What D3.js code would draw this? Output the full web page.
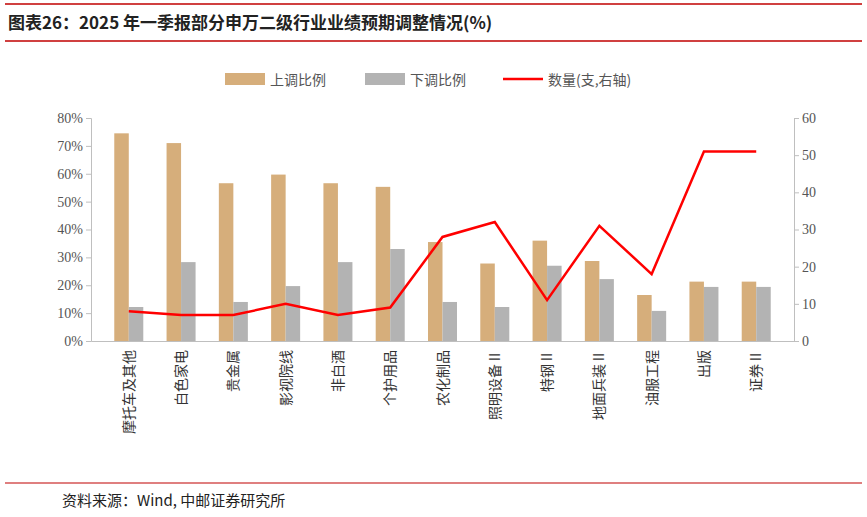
<!DOCTYPE html>
<html>
<head>
<meta charset="utf-8">
<script src="https://d3js.org/d3.v7.min.js"></script>
<style>
body{margin:0;background:#fff;font-family:"Noto Sans CJK SC","Noto Sans",sans-serif;}
</style>
</head>
<body>
<svg id="chart" width="867" height="517"></svg>
<script>
const categories = ["摩托车及其他","白色家电","贵金属","影视院线","非白酒","个护用品","农化制品","照明设备Ⅱ","特钢Ⅱ","地面兵装Ⅱ","油服工程","出版","证券Ⅱ"];
const upRatio = [74.5,71,56.6,59.7,56.6,55.3,35.5,27.8,36,28.7,16.5,21.3,21.3];
const downRatio = [12.2,28.3,14,19.7,28.3,33,14,12.2,27,22.2,10.8,19.4,19.4];
const counts = [8,7,7,10,7,9,28,32,11,31,18,51,51];
const leftTicks = [0,10,20,30,40,50,60,70,80];
const rightTicks = [0,10,20,30,40,50,60];

const svg = d3.select("#chart");
const red = "#c00000";

// title block
svg.append("line").attr("x1",5).attr("x2",862).attr("y1",4).attr("y2",4).attr("stroke",red).attr("stroke-width",1.5);
svg.append("line").attr("x1",5).attr("x2",862).attr("y1",41).attr("y2",41).attr("stroke",red).attr("stroke-width",1.5);
svg.append("text").attr("x",8).attr("y",29).attr("font-size",17).attr("font-weight","bold").attr("fill","#222")
  .text("图表26：2025 年一季报部分申万二级行业业绩预期调整情况(%)");
svg.append("line").attr("x1",5).attr("x2",862).attr("y1",483).attr("y2",483).attr("stroke",red).attr("stroke-width",1.2);
svg.append("text").attr("x",62).attr("y",506).attr("font-size",15).attr("fill","#222").text("资料来源：Wind, 中邮证券研究所");

const x = d3.scaleBand().domain(categories).range([91,794]).padding(0.445);
const y = d3.scaleLinear().domain([0,80]).range([341,118]);
const y2 = d3.scaleLinear().domain([0,60]).range([341,118]);
const bw = x.bandwidth()/2;

svg.append("g").selectAll("rect").data(categories).join("rect")
  .attr("x",d=>x(d)).attr("y",(d,i)=>y(upRatio[i])).attr("width",bw)
  .attr("height",(d,i)=>y(0)-y(upRatio[i])).attr("fill","#d6ae7b");
svg.append("g").selectAll("rect").data(categories).join("rect")
  .attr("x",d=>x(d)+bw).attr("y",(d,i)=>y(downRatio[i])).attr("width",bw)
  .attr("height",(d,i)=>y(0)-y(downRatio[i])).attr("fill","#b3b3b3");

const line = d3.line().x((d,i)=>x(categories[i])+x.bandwidth()/2).y(d=>y2(d));
svg.append("path").datum(counts).attr("d",line).attr("fill","none").attr("stroke","#ff0000").attr("stroke-width",2.5);

// axes
const gl = svg.append("g").attr("transform","translate(91,0)")
  .call(d3.axisLeft(y).tickValues(leftTicks).tickFormat(d=>d+"%").tickSize(5));
const gr = svg.append("g").attr("transform","translate(794,0)")
  .call(d3.axisRight(y2).tickValues(rightTicks).tickSize(5));
const gb = svg.append("g").attr("transform","translate(0,341)")
  .call(d3.axisBottom(x).tickValues([]).tickSizeOuter(0));
[gl,gr,gb].forEach(g=>{
  g.selectAll("path,line").attr("stroke","#bfbfbf");
  g.selectAll("text").attr("fill","#555").attr("font-size",14).attr("font-family","Liberation Serif, serif");
});
gl.selectAll("text").attr("x",-8);

// rotated category labels
svg.append("g").selectAll("text").data(categories).join("text")
  .attr("font-size",14).attr("fill","#333").attr("text-anchor","end")
  .attr("transform",d=>`translate(${x(d)+x.bandwidth()/2+5},350) rotate(-90)`)
  .text(d=>d);

// legend
const lg = svg.append("g").attr("font-size",14);
lg.append("rect").attr("x",225).attr("y",73).attr("width",40).attr("height",12).attr("fill","#d6ae7b");
lg.append("text").attr("x",270).attr("y",85).attr("fill","#555").text("上调比例");
lg.append("rect").attr("x",365).attr("y",73).attr("width",40).attr("height",12).attr("fill","#b3b3b3");
lg.append("text").attr("x",410).attr("y",85).attr("fill","#555").text("下调比例");
lg.append("line").attr("x1",503).attr("x2",543).attr("y1",79).attr("y2",79).attr("stroke","#ff0000").attr("stroke-width",2.5);
lg.append("text").attr("x",548).attr("y",85).attr("fill","#555").text("数量(支,右轴)");
</script>
</body>
</html>
